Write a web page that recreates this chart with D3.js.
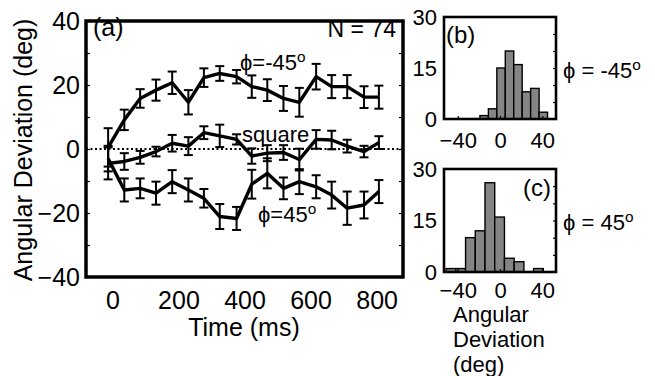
<!DOCTYPE html>
<html>
<head>
<meta charset="utf-8">
<script src="https://cdn.jsdelivr.net/npm/d3@7"></script>
<style>
  body { margin: 0; background: #fff; }
  svg { display: block; font-family: "Liberation Sans", Arial, Helvetica, sans-serif; }
</style>
</head>
<body>
<svg id="fig" width="655" height="376"></svg>
<script>
// time bins (ms) and mean angular deviation (deg) with error bars
const times = [-13, 36, 84, 132, 181, 230, 277, 325, 376, 422, 469, 518, 566, 617, 664, 711, 762, 807];
const neg45Mean = [0.5, 9.1, 15.8, 18.4, 20.7, 14.6, 22.3, 23.6, 22.6, 19.5, 18.4, 15.8, 14.6, 22.6, 19.5, 19.5, 16.2, 16.2];
const neg45Err = [6, 3.2, 2.9, 3.3, 3.5, 3.8, 2.9, 2.3, 2.1, 3.5, 3.4, 3.9, 4.5, 4, 3.6, 3.6, 3.4, 3.6];
const squareMean = [-4.5, -3.9, -2.6, -0.8, 1.8, 0.9, 5.1, 4.1, 3.0, -2.2, -1.3, -1.1, -3.3, 3.0, 2.8, 0.9, -0.8, 2.0];
const squareErr = [5, 2.6, 2, 1.5, 2.6, 2.8, 2, 3.5, 1.6, 2.4, 2.5, 2.3, 3.4, 2.9, 2.9, 2, 1.8, 2];
const pos45Mean = [-3, -12.8, -12.3, -13.8, -10.2, -12.8, -15.4, -21.1, -21.7, -11, -7.6, -12.3, -10.2, -11.8, -14.4, -18.5, -17.5, -13.3];
const pos45Err = [4, 3.6, 3.1, 3.6, 3.6, 3.6, 2.9, 3.9, 3.6, 4.5, 4.7, 3.4, 3.9, 3.6, 4.2, 5.2, 4.2, 3.6];

const xTicks = [0, 200, 400, 600, 800];
const yTicks = [-40, -20, 0, 20, 40];
const yMinor = [-30, -20, -10, 0, 10, 20, 30];

// histograms of angular deviation
const histBEdges = [-19, -11, -3, 5, 13, 21, 29, 37, 45];
const histBCounts = [1, 3, 15, 20, 16, 8, 9, 2];
const histCEdges = [-51, -41.8, -32.6, -23.4, -14.2, -5, 4.2, 13.4, 22.6, 31.8, 41];
const histCCounts = [1, 1, 10, 12, 26, 16, 4, 3, 0, 1];
const histXTicks = [-40, 0, 40];
const histYTicks = [0, 15, 30];
const histYMinor = [5, 10, 15, 20, 25];

const svg = d3.select('#fig');
svg.append('rect').attr('width', 655).attr('height', 376).attr('fill', '#fff');

// ---------- panel (a) ----------
const x = d3.scaleLinear().domain([-80, 880]).range([86, 403]);
const y = d3.scaleLinear().domain([-40, 40]).range([277, 21]);

const g = svg.append('g');

// zero line
g.append('line')
  .attr('x1', x(-80)).attr('x2', x(880))
  .attr('y1', y(0)).attr('y2', y(0))
  .attr('stroke', '#000').attr('stroke-width', 2)
  .attr('stroke-dasharray', '2,2.5');

const series = [
  { mean: neg45Mean, err: neg45Err },
  { mean: squareMean, err: squareErr },
  { mean: pos45Mean, err: pos45Err }
];

const line = d3.line().x((d) => x(d.t)).y((d) => y(d.m));

series.forEach((s) => {
  const rows = times.map((t, i) => ({ t: t, m: s.mean[i], e: s.err[i] }));
  const eb = g.append('g').selectAll('g').data(rows).join('g');
  eb.append('line')
    .attr('x1', (d) => x(d.t)).attr('x2', (d) => x(d.t))
    .attr('y1', (d) => y(d.m - d.e)).attr('y2', (d) => y(d.m + d.e))
    .attr('stroke', '#000').attr('stroke-width', 2);
  [-1, 1].forEach((sgn) => {
    eb.append('line')
      .attr('x1', (d) => x(d.t) - 4.5).attr('x2', (d) => x(d.t) + 4.5)
      .attr('y1', (d) => y(d.m + sgn * d.e)).attr('y2', (d) => y(d.m + sgn * d.e))
      .attr('stroke', '#000').attr('stroke-width', 2);
  });
  g.append('path').datum(rows)
    .attr('d', line)
    .attr('fill', 'none').attr('stroke', '#000').attr('stroke-width', 3.4)
    .attr('stroke-linejoin', 'round');
});

// frame and axes
g.append('rect')
  .attr('x', x(-80)).attr('y', y(40))
  .attr('width', x(880) - x(-80)).attr('height', y(-40) - y(40))
  .attr('fill', 'none').attr('stroke', '#000').attr('stroke-width', 3.5);

function styleAxis(sel, size) {
  sel.select('.domain').remove();
  sel.selectAll('text').attr('fill', '#000').style('font-size', size + 'px');
  sel.selectAll('line').attr('stroke', '#000').attr('stroke-width', 1.2);
}

g.append('g').attr('transform', `translate(${x(-80)},0)`)
  .call(d3.axisLeft(y).tickValues(yMinor).tickSize(-4).tickFormat(''))
  .call((s) => styleAxis(s, 25));
g.append('g').attr('transform', `translate(${x(880)},0)`)
  .call(d3.axisRight(y).tickValues(yMinor).tickSize(-4).tickFormat(''))
  .call((s) => styleAxis(s, 25));
g.append('g').attr('transform', `translate(${x(-80)},0)`)
  .call(d3.axisLeft(y).tickValues(yTicks).tickSize(0).tickPadding(6))
  .call((s) => styleAxis(s, 25));
g.append('g').attr('transform', `translate(0,${y(-40)})`)
  .call(d3.axisBottom(x).tickValues(xTicks).tickSize(0).tickPadding(14))
  .call((s) => styleAxis(s, 25));

svg.append('text')
  .attr('transform', `translate(32,150) rotate(-90)`)
  .attr('text-anchor', 'middle')
  .style('font-size', '25px')
  .text('Angular Deviation (deg)');

svg.append('text')
  .attr('x', 244).attr('y', 336)
  .attr('text-anchor', 'middle')
  .style('font-size', '25px')
  .text('Time (ms)');

g.append('text').attr('x', 93).attr('y', 36).style('font-size', '25px').text('(a)');
g.append('text').attr('x', 396).attr('y', 37).attr('text-anchor', 'end')
  .style('font-size', '23px').text('N = 74');

function phiLabel(parent, px, py, main, size) {
  const t = parent.append('text').attr('x', px).attr('y', py).style('font-size', size + 'px');
  t.append('tspan').text(main);
  t.append('tspan').attr('dy', -size * 0.35).style('font-size', (size * 0.7) + 'px').text('o');
  return t;
}
phiLabel(g, 240, 70, 'ϕ=-45', 22);
phiLabel(g, 258, 222, 'ϕ=45', 22);
g.append('text').attr('x', 242).attr('y', 142).style('font-size', '22px').text('square');

// ---------- panels (b) and (c) ----------
const hx = d3.scaleLinear().domain([-53, 53]).range([444, 556]);

function histogram(top, bottom, edges, counts, label, labelX, labelY, xPad) {
  const hy = d3.scaleLinear().domain([0, 30]).range([bottom, top]);
  const hg = svg.append('g');
  const bins = counts.map((c, i) => ({ x0: edges[i], x1: edges[i + 1], c: c }));
  hg.selectAll('rect.bar').data(bins).join('rect')
    .attr('class', 'bar')
    .attr('x', (d) => hx(d.x0)).attr('width', (d) => hx(d.x1) - hx(d.x0))
    .attr('y', (d) => hy(d.c)).attr('height', (d) => hy(0) - hy(d.c))
    .attr('fill', '#858585').attr('stroke', '#000').attr('stroke-width', 1.4);
  hg.append('rect')
    .attr('x', hx(-53)).attr('y', hy(30))
    .attr('width', hx(53) - hx(-53)).attr('height', hy(0) - hy(30))
    .attr('fill', 'none').attr('stroke', '#000').attr('stroke-width', 2.6);
  hg.append('g').attr('transform', `translate(${hx(53)},0)`)
    .call(d3.axisRight(hy).tickValues(histYMinor).tickSize(-3).tickFormat(''))
    .call((s) => styleAxis(s, 22));
  hg.append('g').attr('transform', `translate(0,${hy(0)})`)
    .call(d3.axisTop(hx).tickValues(histXTicks).tickSize(3).tickFormat(''))
    .call((s) => styleAxis(s, 22));
  hg.append('g').attr('transform', `translate(${hx(-53)},0)`)
    .call(d3.axisLeft(hy).tickValues(histYTicks).tickSize(0).tickPadding(7))
    .call((s) => styleAxis(s, 22));
  hg.append('g').attr('transform', `translate(0,${hy(0)})`)
    .call(d3.axisBottom(hx).tickValues(histXTicks).tickSize(0).tickPadding(xPad))
    .call((s) => styleAxis(s, 22));
  hg.append('text').attr('x', labelX).attr('y', labelY).style('font-size', '24px').text(label);
  return hg;
}

histogram(17, 119, histBEdges, histBCounts, '(b)', 446, 43, 13);
histogram(169, 272, histCEdges, histCCounts, '(c)', 523, 196, 10);

phiLabel(svg, 563, 78, 'ϕ = -45', 22);
phiLabel(svg, 563, 230, 'ϕ = 45', 22);

const sub = svg.append('text').attr('x', 453).style('font-size', '22px');
['Angular', 'Deviation', '(deg)'].forEach((w, i) => {
  sub.append('tspan').attr('x', 453).attr('y', 322 + i * 25).text(w);
});
</script>
</body>
</html>
